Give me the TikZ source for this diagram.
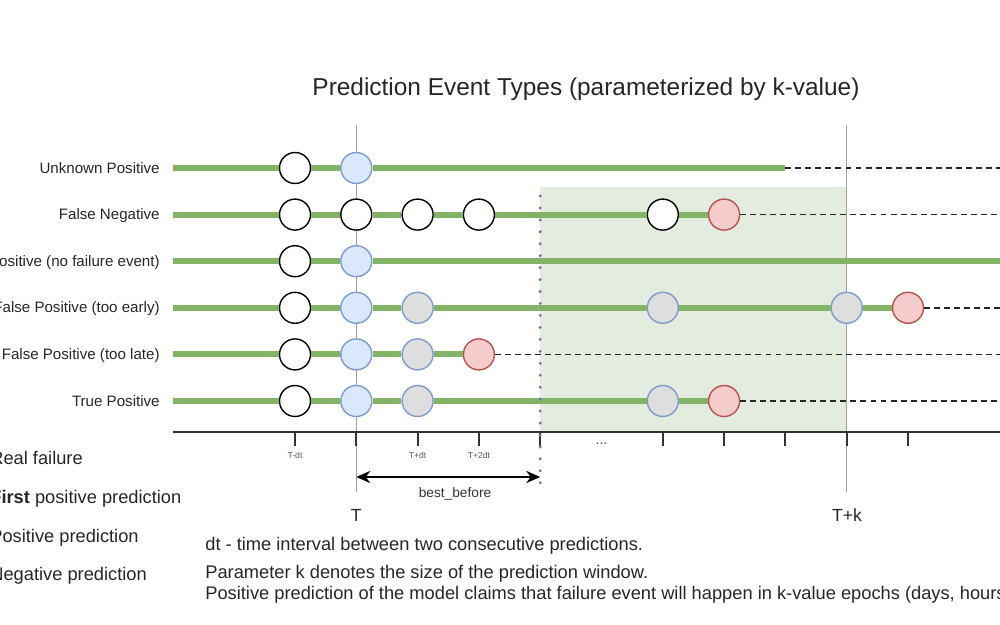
\documentclass[tikz,border=0pt]{standalone}
\usepackage{fontspec}
\setmainfont{Liberation Sans}
\usetikzlibrary{arrows.meta}

\definecolor{lifegreen}{HTML}{82B366}
\definecolor{wingreen}{HTML}{E3ECDE}
\definecolor{firstblue}{HTML}{DAE8FC}
\definecolor{edgeblue}{HTML}{7D9CCB}
\definecolor{failred}{HTML}{F4CCCB}
\definecolor{edgered}{HTML}{B85450}
\definecolor{posgray}{HTML}{DEDEDE}
\definecolor{dotpurple}{HTML}{7873AA}
\definecolor{markgray}{HTML}{A0A0A0}

\tikzset{
  ev/.style={circle, minimum size=0.62cm, inner sep=0pt, line width=0.8pt},
  negdot/.style={ev, draw=black, fill=white},
  firstdot/.style={ev, draw=edgeblue, fill=firstblue},
  posdot/.style={ev, draw=edgeblue, fill=posgray},
  faildot/.style={ev, draw=edgered, fill=failred},
  life/.style={draw=lifegreen, line width=3.4pt},
  later/.style={draw=black!85, line width=1pt, dash pattern=on 3.4pt off 2.3pt},
  rowname/.style={anchor=base east, inner sep=0pt, font=\fontsize{8.6}{10}\selectfont, text=black!85},
  note/.style={anchor=base west, inner sep=0pt, font=\fontsize{10.4}{12}\selectfont, text=black!85},
  ticktext/.style={anchor=base, inner sep=0pt, font=\fontsize{4.9}{6}\selectfont, text=black!65},
}

\begin{document}
\begin{tikzpicture}[x=0.02cm, y=-0.02cm]
    % 画布
    \useasboundingbox (0,0) rectangle (1000,625);
    \clip (0,0) rectangle (1000,625);
    % 行和列
    \foreach \i in {1,...,6} {
        \coordinate (r\i) at (0,{168+46.6*(\i-1)});
        \coordinate (s\i) at (173,{168+46.6*(\i-1)});
        \coordinate (e\i) at (1000,{168+46.6*(\i-1)});
    }
    \foreach \j in {0,...,10}
        \coordinate (c\j) at ({295+61.3*\j},0);
    \coordinate (ax0) at (173,432);
    \coordinate (ax1) at (1000,432);
    \coordinate (T0) at (356.3,125);
    \coordinate (T1) at (356.3,492);
    \coordinate (Tk0) at (846.7,125);
    \coordinate (Tk1) at (846.7,492);
    \coordinate (bb0) at (356.3,477);
    \coordinate (bb1) at (540.2,477);
    \coordinate (dot0) at (540.2,196);
    \coordinate (dot1) at (540.2,492);

    % 标题
    \node[anchor=base, inner sep=0pt, font=\fontsize{13.9}{16}\selectfont, text=black!85] (title) at (586,95) {Prediction Event Types (parameterized by k-value)};

    % 预测窗口
    \fill[wingreen] (540.2,187) rectangle (846.7,432);
    \draw[markgray, line width=0.8pt] (T0) -- (T1);
    \draw[markgray, line width=0.8pt] (Tk0) -- (Tk1);

    % 事件
    \node[negdot] (up0) at (c0 |- r1) {};
    \node[firstdot] (up1) at (c1 |- r1) {};
    \coordinate (up2) at (c8 |- r1);

    \node[negdot] (fn0) at (c0 |- r2) {};
    \node[negdot] (fn1) at (c1 |- r2) {};
    \node[negdot] (fn2) at (c2 |- r2) {};
    \node[negdot] (fn3) at (c3 |- r2) {};
    \node[negdot] (fn4) at (c6 |- r2) {};
    \node[faildot] (fn5) at (c7 |- r2) {};

    \node[negdot] (fpn0) at (c0 |- r3) {};
    \node[firstdot] (fpn1) at (c1 |- r3) {};

    \node[negdot] (fpe0) at (c0 |- r4) {};
    \node[firstdot] (fpe1) at (c1 |- r4) {};
    \node[posdot] (fpe2) at (c2 |- r4) {};
    \node[posdot] (fpe3) at (c6 |- r4) {};
    \node[posdot] (fpe4) at (c9 |- r4) {};
    \node[faildot] (fpe5) at (c10 |- r4) {};

    \node[negdot] (fpl0) at (c0 |- r5) {};
    \node[firstdot] (fpl1) at (c1 |- r5) {};
    \node[posdot] (fpl2) at (c2 |- r5) {};
    \node[faildot] (fpl3) at (c3 |- r5) {};

    \node[negdot] (tp0) at (c0 |- r6) {};
    \node[firstdot] (tp1) at (c1 |- r6) {};
    \node[posdot] (tp2) at (c2 |- r6) {};
    \node[posdot] (tp3) at (c6 |- r6) {};
    \node[faildot] (tp4) at (c7 |- r6) {};

    % 时间线
    \draw[life] (s1) -- (up0) -- (up1) -- (up2);
    \draw[later] (up2) -- (e1);
    \draw[life] (s2) -- (fn0) -- (fn1) -- (fn2) -- (fn3) -- (fn4) -- (fn5);
    \draw[later] (fn5) -- (e2);
    \draw[life] (s3) -- (fpn0) -- (fpn1) -- (e3);
    \draw[life] (s4) -- (fpe0) -- (fpe1) -- (fpe2) -- (fpe3) -- (fpe4) -- (fpe5);
    \draw[later] (fpe5) -- (e4);
    \draw[life] (s5) -- (fpl0) -- (fpl1) -- (fpl2) -- (fpl3);
    \draw[later] (fpl3) -- (e5);
    \draw[life] (s6) -- (tp0) -- (tp1) -- (tp2) -- (tp3) -- (tp4);
    \draw[later] (tp4) -- (e6);

    % 行名
    \node[rowname] (n1) at (160,{168+5}) {Unknown Positive};
    \node[rowname] (n2) at (160,{214.6+5}) {False Negative};
    \node[rowname] (n3) at (160,{261.2+5}) {False Positive (no failure event)};
    \node[rowname] (n4) at (160,{307.8+5}) {False Positive (too early)};
    \node[rowname] (n5) at (160,{354.4+5}) {False Positive (too late)};
    \node[rowname] (n6) at (160,{401+5}) {True Positive};

    % 时间轴
    \draw[black!80, line width=1.1pt] (ax0) -- (ax1);
    \foreach \j in {0,1,2,3,4,6,7,8,9,10}
        \draw[black!80, line width=1.1pt] (c\j |- ax0) -- ++(0,14);
    \node[ticktext] (tm) at (295,458) {T-dt};
    \node[ticktext] (tp) at (417.6,458) {T+dt};
    \node[ticktext] (tpp) at (478.9,458) {T+2dt};
    \node[anchor=base, inner sep=0pt, font=\fontsize{8}{9}\selectfont, text=black!70] (dots) at (601.5,444) {...};
    \node[anchor=base, inner sep=0pt, font=\fontsize{10}{12}\selectfont, text=black!85] (tl) at (356.3,521) {T};
    \node[anchor=base, inner sep=0pt, font=\fontsize{10}{12}\selectfont, text=black!85] (tkl) at (847,521) {T+k};

    % best_before
    \draw[dotpurple, line width=1.9pt, line cap=round, dash pattern=on 0pt off 6.8pt] (dot0) -- (dot1);
    \draw[{Stealth[length=8pt,width=7pt]}-{Stealth[length=8pt,width=7pt]}, line width=0.8pt] (bb0) -- (bb1);
    \node[anchor=base, inner sep=0pt, font=\fontsize{7.8}{9}\selectfont, text=black!80] (bbl) at (455,497) {best\_before};

    % 图例
    \node[note] (lg1) at (-10,464.5) {Real failure};
    \node[note] (lg2) at (-10,503.5) {\textbf{First} positive prediction};
    \node[note] (lg3) at (-10,542) {Positive prediction};
    \node[note] (lg4) at (-10,580.5) {Negative prediction};

    % 说明
    \node[note] (d1) at (205,550) {dt - time interval between two consecutive predictions.};
    \node[note] (d2) at (205,578.5) {Parameter k denotes the size of the prediction window.};
    \node[note] (d3) at (205,599.5) {Positive prediction of the model claims that failure event will happen in k-value epochs (days, hours)};
\end{tikzpicture}
\end{document}
